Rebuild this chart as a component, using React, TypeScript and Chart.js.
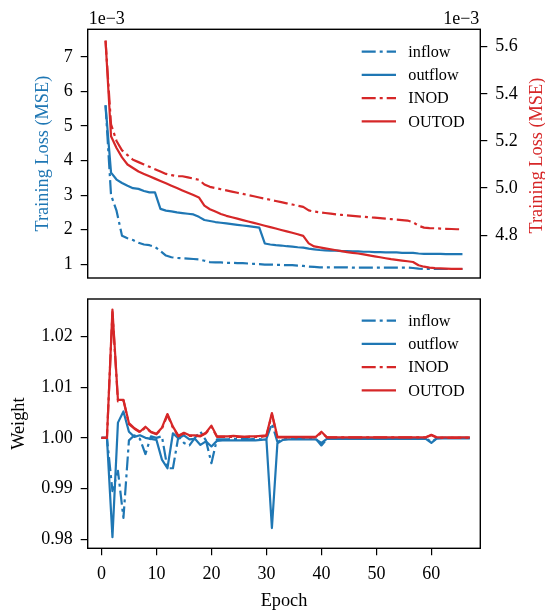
import { useEffect, useRef } from "react";
import { Chart, registerables } from "chart.js";
Chart.register(...registerables);

const FONT = "'Liberation Serif', 'Times New Roman', serif";
const FS_TICK = 18;
const FS_LABEL = 18.3;
const FS_LEG = 16.2;
const BLUE = "#1f77b4";
const RED = "#d62728";
const DASHDOT = [14, 4, 3, 4];

// ---------- data ----------
const seriesLabels = ["inflow", "outflow", "INOD", "OUTOD"];

const lossEpochs = [
  1, 2, 3, 4, 5, 6, 7, 8, 9, 10, 11, 12, 13, 14, 15, 16, 17, 18, 19, 20, 21, 22,
  23, 24, 25, 26, 27, 28, 29, 30, 31, 32, 33, 34, 35, 36, 37, 38, 39, 40, 41, 42,
  43, 44, 45, 46, 47, 48, 49, 50, 51, 52, 53, 54, 55, 56, 57, 58, 59, 60, 61, 62,
  63, 64, 65, 66,
];
// training loss, units of 1e-3 (left axis)
const inflowLoss = [
  5.6, 3.0, 2.55, 1.82, 1.75, 1.7, 1.62, 1.57, 1.55, 1.5,
  1.38, 1.25, 1.2, 1.18, 1.17, 1.16, 1.15, 1.14, 1.1, 1.06,
  1.05, 1.05, 1.04, 1.04, 1.03, 1.03, 1.02, 1.01, 1.0, 0.99,
  0.99, 0.98, 0.98, 0.97, 0.97, 0.96, 0.95, 0.93, 0.92, 0.91,
  0.91, 0.91, 0.91, 0.91, 0.91, 0.9, 0.9, 0.9, 0.9, 0.9,
  0.9, 0.9, 0.9, 0.9, 0.9, 0.9, 0.89, 0.87, 0.86, 0.86,
  0.86, 0.86, 0.86, 0.86, 0.86, 0.86,
];
const outflowLoss = [
  5.6, 3.65, 3.45, 3.35, 3.27, 3.2, 3.18, 3.12, 3.08, 3.08,
  2.6, 2.55, 2.53, 2.5, 2.48, 2.46, 2.44, 2.37, 2.28, 2.25,
  2.22, 2.2, 2.18, 2.16, 2.14, 2.12, 2.1, 2.08, 2.06, 1.6,
  1.57, 1.55, 1.54, 1.52, 1.51, 1.49, 1.48, 1.45, 1.43, 1.41,
  1.4, 1.39, 1.39, 1.38, 1.38, 1.37, 1.37, 1.36, 1.36, 1.35,
  1.35, 1.34, 1.34, 1.34, 1.33, 1.33, 1.33, 1.31, 1.3, 1.3,
  1.3, 1.3, 1.29, 1.29, 1.29, 1.29,
];
// training loss, units of 1e-3 (right axis)
const inodLoss = [
  5.626, 5.27, 5.2, 5.16, 5.14, 5.12, 5.11, 5.1, 5.09, 5.08,
  5.07, 5.06, 5.055, 5.05, 5.05, 5.045, 5.04, 5.035, 5.015, 5.005,
  5.0, 4.995, 4.99, 4.985, 4.98, 4.975, 4.97, 4.965, 4.96, 4.955,
  4.95, 4.945, 4.94, 4.935, 4.93, 4.925, 4.92, 4.905, 4.9, 4.897,
  4.894, 4.891, 4.888, 4.886, 4.884, 4.882, 4.88, 4.878, 4.876, 4.874,
  4.872, 4.87, 4.868, 4.866, 4.864, 4.862, 4.855, 4.84, 4.832, 4.83,
  4.829, 4.828, 4.827, 4.826, 4.825, 4.825,
];
const outodLoss = [
  5.626, 5.22, 5.17, 5.13, 5.1, 5.085, 5.07, 5.06, 5.05, 5.04,
  5.03, 5.02, 5.01, 5.0, 4.99, 4.98, 4.97, 4.96, 4.925, 4.91,
  4.9, 4.89, 4.882, 4.876, 4.87, 4.864, 4.858, 4.852, 4.846, 4.84,
  4.834, 4.828, 4.822, 4.816, 4.81, 4.804, 4.797, 4.765, 4.752, 4.748,
  4.744, 4.74, 4.736, 4.732, 4.728, 4.725, 4.722, 4.718, 4.714, 4.71,
  4.706, 4.702, 4.698, 4.695, 4.692, 4.689, 4.686, 4.672, 4.666, 4.662,
  4.66, 4.659, 4.658, 4.657, 4.657, 4.657,
];

const weightEpochs = [
  0, 1, 2, 3, 4, 5, 6, 7, 8, 9, 10, 11, 12, 13, 14, 15, 16, 17, 18, 19, 20, 21,
  22, 23, 24, 25, 26, 27, 28, 29, 30, 31, 32, 33, 34, 35, 36, 37, 38, 39, 40, 41,
  42, 43, 44, 45, 46, 47, 48, 49, 50, 51, 52, 53, 54, 55, 56, 57, 58, 59, 60, 61,
  62, 63, 64, 65, 66, 67,
];
const inflowWeight = [
  1.0, 1.0, 0.9895, 0.9935, 0.9842, 0.9995, 1.0005, 0.9998, 0.9968, 1.0003,
  1.0, 1.0003, 0.994, 0.994, 1.0003, 0.999, 0.9985, 1.0, 1.0012, 0.9995,
  0.995, 0.9997, 0.9997, 0.9997, 0.9998, 0.9997, 0.9998, 0.9997, 0.9998, 0.9997,
  0.9998, 1.0028, 0.9992, 0.9997, 0.9998, 0.9998, 0.9998, 0.9998, 0.9998, 0.9998,
  0.9985, 0.9998, 0.9999, 0.9999, 0.9999, 0.9999, 0.9999, 0.9999, 0.9999, 0.9999,
  0.9999, 0.9999, 0.9999, 0.9999, 0.9999, 0.9999, 0.9999, 0.9999, 0.9999, 0.9999,
  0.9992, 0.9999, 1.0, 1.0, 1.0, 1.0, 1.0, 1.0,
];
const outflowWeight = [
  1.0, 1.0, 0.9804, 1.003, 1.0052, 1.0012, 1.0002, 1.0005, 1.0, 0.9998,
  0.9996, 0.9957, 0.994, 1.0009, 0.9999, 1.0005, 0.9997, 0.9998, 0.9986, 0.9993,
  0.9983, 0.9994, 0.9995, 0.9995, 0.9995, 0.9995, 0.9995, 0.9995, 0.9995, 0.9996,
  0.9997, 0.9822, 0.9989, 0.9996, 0.9997, 0.9997, 0.9997, 0.9997, 0.9997, 0.9997,
  0.999, 0.9998, 0.9998, 0.9998, 0.9998, 0.9998, 0.9998, 0.9998, 0.9998, 0.9998,
  0.9998, 0.9998, 0.9998, 0.9998, 0.9998, 0.9998, 0.9998, 0.9998, 0.9998, 0.9998,
  0.999, 0.9999, 0.9999, 0.9999, 0.9999, 0.9999, 0.9999, 0.9999,
];
const inodWeight = [
  1.0, 1.0, 1.0248, 1.0072, 1.0074, 1.0027, 1.0018, 1.0011, 1.002, 1.0011,
  1.0007, 1.0018, 1.0045, 1.002, 1.0003, 1.0009, 1.0004, 1.0004, 1.0003, 1.0009,
  1.0022, 1.0002, 1.0002, 1.0002, 1.0002, 1.0002, 1.0002, 1.0002, 1.0002, 1.0002,
  1.0004, 1.0046, 1.0001, 1.0001, 1.0001, 1.0001, 1.0001, 1.0001, 1.0001, 1.0001,
  1.001, 1.0001, 1.0001, 1.0001, 1.0001, 1.0001, 1.0001, 1.0001, 1.0001, 1.0001,
  1.0001, 1.0001, 1.0001, 1.0001, 1.0001, 1.0001, 1.0001, 1.0001, 1.0001, 1.0001,
  1.0005, 1.0, 1.0, 1.0, 1.0, 1.0, 1.0, 1.0,
];
const outodWeight = [
  1.0, 1.0, 1.0253, 1.0075, 1.0075, 1.0029, 1.0019, 1.0012, 1.0022, 1.0012,
  1.0008, 1.002, 1.0047, 1.0022, 1.0004, 1.001, 1.0005, 1.0005, 1.0004, 1.001,
  1.0024, 1.0003, 1.0003, 1.0003, 1.0004, 1.0003, 1.0002, 1.0003, 1.0003, 1.0004,
  1.0005, 1.0049, 1.0002, 1.0002, 1.0002, 1.0002, 1.0002, 1.0002, 1.0002, 1.0002,
  1.0012, 1.0001, 1.0001, 1.0001, 1.0001, 1.0001, 1.0001, 1.0001, 1.0001, 1.0001,
  1.0001, 1.0001, 1.0001, 1.0001, 1.0001, 1.0001, 1.0001, 1.0001, 1.0001, 1.0001,
  1.0006, 1.0001, 1.0001, 1.0001, 1.0001, 1.0001, 1.0001, 1.0001,
];

const leftLossTicks = [1, 2, 3, 4, 5, 6, 7];
const rightLossTicks = [4.8, 5.0, 5.2, 5.4, 5.6];
const weightTicks = [0.98, 0.99, 1.0, 1.01, 1.02];
const epochTicks = [0, 10, 20, 30, 40, 50, 60];

// ---------- helpers ----------
const pts = (xs: number[], ys: number[]) => ys.map((y, i) => ({ x: xs[i], y }));

const tickFont = { family: FONT, size: FS_TICK };

function yScale(position: string, min: number, max: number, ticks: number[], digits: number, width: number) {
  return {
    type: "linear",
    position,
    min,
    max,
    afterBuildTicks: (s: any) => {
      s.ticks = ticks.map((v) => ({ value: v }));
    },
    afterFit: (s: any) => {
      s.width = width;
      s.paddingTop = 0;
      s.paddingBottom = 0;
    },
    ticks: {
      color: "#000",
      padding: 8,
      font: tickFont,
      callback: (v: any) => Number(v).toFixed(digits),
    },
    grid: { drawOnChartArea: false, tickLength: 7, color: "#000", lineWidth: 1.2 },
    border: { display: false },
  };
}

function lineDs(label: string, data: any[], color: string, dashed: boolean, order: number, yAxisID: string) {
  return {
    label,
    data,
    borderColor: color,
    backgroundColor: color,
    borderWidth: 2.2,
    borderDash: dashed ? DASHDOT : [],
    borderJoinStyle: "round",
    pointRadius: 0,
    tension: 0,
    fill: false,
    order,
    yAxisID,
  };
}

function rotatedText(ctx: CanvasRenderingContext2D, text: string, x: number, y: number, color: string) {
  ctx.save();
  ctx.translate(x, y);
  ctx.rotate(-Math.PI / 2);
  ctx.fillStyle = color;
  ctx.font = `${FS_LABEL}px ${FONT}`;
  ctx.textAlign = "center";
  ctx.textBaseline = "middle";
  ctx.fillText(text, 0, 0);
  ctx.restore();
}

function drawFrameAndLegend(chart: any, firstRow: number) {
  const ctx: CanvasRenderingContext2D = chart.ctx;
  const { left, top, right, bottom } = chart.chartArea;
  ctx.save();
  ctx.strokeStyle = "#000";
  ctx.lineWidth = 1.4;
  ctx.strokeRect(left, top, right - left, bottom - top);
  // legend
  const dsets = chart.data.datasets;
  seriesLabels.forEach((lab, i) => {
    const ds = dsets.find((d: any) => d.label === lab);
    if (!ds) return;
    const y = top + firstRow + i * 23.2;
    ctx.beginPath();
    ctx.setLineDash(ds.borderDash || []);
    ctx.strokeStyle = ds.borderColor;
    ctx.lineWidth = 2.2;
    ctx.moveTo(right - 118.6, y);
    ctx.lineTo(right - 84.3, y);
    ctx.stroke();
    ctx.setLineDash([]);
    ctx.fillStyle = "#000";
    ctx.font = `${FS_LEG}px ${FONT}`;
    ctx.textAlign = "left";
    ctx.textBaseline = "middle";
    ctx.fillText(lab, right - 72, y + 1);
  });
  ctx.restore();
}

const topDecor = {
  id: "topDecor",
  afterDraw(chart: any) {
    const ctx: CanvasRenderingContext2D = chart.ctx;
    const { left, top, right, bottom } = chart.chartArea;
    drawFrameAndLegend(chart, 22.4);
    const mid = (top + bottom) / 2;
    rotatedText(ctx, "Training Loss (MSE)", 43.5, mid, BLUE);
    rotatedText(ctx, "Training Loss (MSE)", 537.5, mid + 2, RED);
    ctx.save();
    ctx.fillStyle = "#000";
    ctx.font = `${FS_TICK}px ${FONT}`;
    ctx.textBaseline = "alphabetic";
    ctx.textAlign = "left";
    ctx.fillText("1e\u22123", left + 1, 24);
    ctx.textAlign = "right";
    ctx.fillText("1e\u22123", right - 1, 24);
    ctx.restore();
  },
};

const bottomDecor = {
  id: "bottomDecor",
  afterDraw(chart: any) {
    const ctx: CanvasRenderingContext2D = chart.ctx;
    const { left, top, right, bottom } = chart.chartArea;
    drawFrameAndLegend(chart, 21.7);
    rotatedText(ctx, "Weight", 19.5, (top + bottom) / 2, "#000");
    ctx.save();
    ctx.fillStyle = "#000";
    ctx.font = `${FS_LABEL}px ${FONT}`;
    ctx.textAlign = "center";
    ctx.textBaseline = "middle";
    ctx.fillText("Epoch", (left + right) / 2, 311);
    ctx.restore();
  },
};

export default function App() {
  const topRef = useRef<HTMLCanvasElement>(null);
  const botRef = useRef<HTMLCanvasElement>(null);

  useEffect(() => {
    const common = {
      responsive: false,
      animation: false,
      devicePixelRatio: 1,
      events: [],
    };

    const top = new Chart(topRef.current as HTMLCanvasElement, {
      type: "line",
      data: {
        datasets: [
          lineDs("inflow", pts(lossEpochs, inflowLoss), BLUE, true, 4, "yL"),
          lineDs("outflow", pts(lossEpochs, outflowLoss), BLUE, false, 3, "yL"),
          lineDs("INOD", pts(lossEpochs, inodLoss), RED, true, 2, "yR"),
          lineDs("OUTOD", pts(lossEpochs, outodLoss), RED, false, 1, "yR"),
        ] as any,
      },
      options: {
        ...common,
        layout: { padding: { top: 29.3, bottom: 12, left: 0, right: 0 } },
        plugins: { legend: { display: false }, tooltip: { enabled: false } },
        scales: {
          x: { type: "linear", display: false, min: -2.25, max: 69.25 },
          yL: yScale("left", 0.6, 7.8, leftLossTicks, 0, 87.7),
          yR: yScale("right", 4.618, 5.674, rightLossTicks, 1, 64.7),
        } as any,
      } as any,
      plugins: [topDecor],
    });

    const bot = new Chart(botRef.current as HTMLCanvasElement, {
      type: "line",
      data: {
        datasets: [
          lineDs("inflow", pts(weightEpochs, inflowWeight), BLUE, true, 4, "y"),
          lineDs("outflow", pts(weightEpochs, outflowWeight), BLUE, false, 3, "y"),
          lineDs("INOD", pts(weightEpochs, inodWeight), RED, true, 2, "y"),
          lineDs("OUTOD", pts(weightEpochs, outodWeight), RED, false, 1, "y"),
        ] as any,
      },
      options: {
        ...common,
        layout: { padding: { top: 9, bottom: 0, left: 0, right: 64.7 } },
        plugins: { legend: { display: false }, tooltip: { enabled: false } },
        scales: {
          x: {
            type: "linear",
            position: "bottom",
            min: -2.5,
            max: 68.9,
            afterBuildTicks: (s: any) => {
              s.ticks = epochTicks.map((v) => ({ value: v }));
            },
            afterFit: (s: any) => {
              s.height = 61.7;
              s.paddingLeft = 0;
              s.paddingRight = 0;
            },
            ticks: { color: "#000", padding: 8, font: tickFont, maxRotation: 0, callback: (v: any) => String(v) },
            grid: { drawOnChartArea: false, tickLength: 7, color: "#000", lineWidth: 1.2 },
            border: { display: false },
          },
          y: yScale("left", 0.9782, 1.0274, weightTicks, 2, 87.7),
        } as any,
      } as any,
      plugins: [bottomDecor],
    });

    return () => {
      top.destroy();
      bot.destroy();
    };
  }, []);

  return (
    <div style={{ position: "absolute", left: 0, top: 0, width: 545, height: 610, background: "#fff" }}>
      <canvas ref={topRef} width={545} height={290} style={{ position: "absolute", left: 0, top: 0, display: "block" }} />
      <canvas ref={botRef} width={545} height={320} style={{ position: "absolute", left: 0, top: 290, display: "block" }} />
    </div>
  );
}
